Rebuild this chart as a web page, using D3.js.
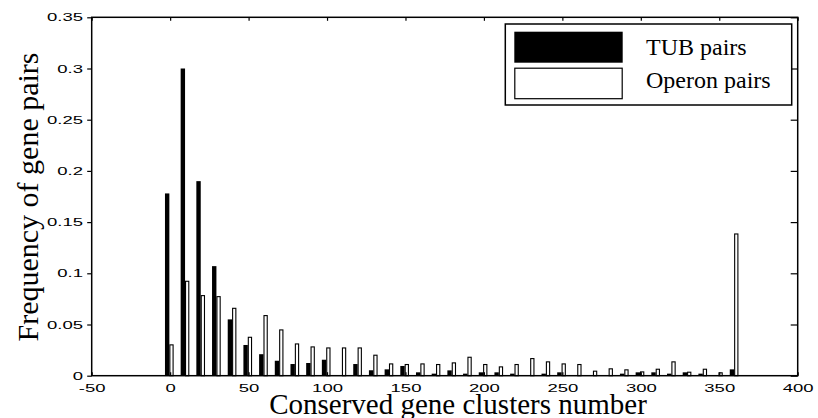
<!DOCTYPE html>
<html>
<head>
<meta charset="utf-8">
<script src="https://cdn.jsdelivr.net/npm/d3@7"></script>
<style>
  html, body { margin: 0; padding: 0; background: #fff; }
  svg { display: block; }
</style>
</head>
<body>
<svg id="chart" width="818" height="418"></svg>
<script>
// Histogram bins (number of conserved gene clusters)
const bins = [0, 10, 20, 30, 40, 50, 60, 70, 80, 90, 100, 110, 120, 130, 140, 150, 160, 170, 180,
              190, 200, 210, 220, 230, 240, 250, 260, 270, 280, 290, 300, 310, 320, 330, 340, 350, 360];

// Frequency of TUB gene pairs per bin
const tubPairs = [0.178, 0.300, 0.190, 0.107, 0.055, 0.030, 0.021, 0.0146, 0.0114, 0.0124, 0.0156, 0, 0.0114,
                  0.0053, 0.0062, 0.0095, 0.0033, 0.002, 0.0052, 0.002, 0.0033, 0.0033, 0.002, 0, 0.002,
                  0.0033, 0, 0, 0, 0.002, 0.0033, 0.0033, 0.002, 0.0033, 0.002, 0, 0.0062];

// Frequency of operon gene pairs per bin
const operonPairs = [0.0306, 0.0927, 0.0787, 0.0777, 0.0663, 0.038, 0.0592, 0.0452, 0.0315, 0.0286, 0.0276,
                     0.0276, 0.0276, 0.0205, 0.012, 0.0114, 0.012, 0.0114, 0.013, 0.0185, 0.0114, 0.0091,
                     0.0114, 0.0172, 0.014, 0.012, 0.0114, 0.0049, 0.0072, 0.0062, 0.0042, 0.0068, 0.014,
                     0.0039, 0.0068, 0.0033, 0.1389];

const xTicks = [-50, 0, 50, 100, 150, 200, 250, 300, 350, 400];
const yTicks = [0, 0.05, 0.1, 0.15, 0.2, 0.25, 0.3, 0.35];
const seriesNames = ["TUB pairs", "Operon pairs"];

const svg = d3.select("#chart");
const plotL = 91.7, plotR = 797.7, plotT = 17.3, plotB = 375.7;

const x = d3.scaleLinear().domain([-50, 400]).range([plotL, plotR]);
const y = d3.scaleLinear().domain([0, 0.35]).range([plotB, plotT]);

const tickFont = "'Liberation Sans', Arial, sans-serif";
const serif = "'Liberation Serif', 'Times New Roman', serif";
const stretch = 1.85;

// Bars: TUB (black) on the left of each bin, operon (white) on the right
const bars = svg.append("g");
bins.forEach((c, i) => {
  const t = tubPairs[i];
  if (t > 0) {
    bars.append("rect")
      .attr("x", x(c - 3.3)).attr("width", x(c - 0.5) - x(c - 3.3))
      .attr("y", y(t)).attr("height", y(0) - y(t))
      .attr("fill", "#000");
  }
  const o = operonPairs[i];
  if (o > 0) {
    bars.append("rect")
      .attr("x", x(c - 0.5) + 0.5).attr("width", x(c + 2.2) - x(c - 0.5) - 1)
      .attr("y", y(o) + 0.5).attr("height", y(0) - y(o) - 0.5)
      .attr("fill", "#fff").attr("stroke", "#000").attr("stroke-width", 1.1);
  }
});

// Axes
const gx = svg.append("g").attr("transform", `translate(0,${plotB})`)
  .call(d3.axisBottom(x).tickValues(xTicks).tickSizeInner(-3.5).tickSizeOuter(0).tickFormat(d => d));
gx.selectAll("text")
  .attr("y", 9).attr("dy", "0.71em")
  .attr("transform", `scale(${stretch},1)`)
  .style("font-family", tickFont).style("font-size", "10px").attr("fill", "#000");

const gy = svg.append("g").attr("transform", `translate(${plotL},0)`)
  .call(d3.axisLeft(y).tickValues(yTicks).tickSizeInner(4.5).tickSizeOuter(0).tickFormat(d => String(d)));
gy.selectAll("text")
  .attr("x", -8.7 / stretch).attr("dy", "0.36em")
  .attr("transform", `scale(${stretch},1)`)
  .style("font-family", tickFont).style("font-size", "10px").attr("fill", "#000");

svg.append("g").attr("transform", `translate(0,${plotT})`)
  .call(d3.axisTop(x).tickValues(xTicks).tickSizeInner(-3.5).tickSizeOuter(0).tickFormat(""));
svg.append("g").attr("transform", `translate(${plotR},0)`)
  .call(d3.axisRight(y).tickValues(yTicks).tickSizeInner(-7).tickSizeOuter(0).tickFormat(""));

svg.selectAll(".domain").remove();
svg.selectAll(".tick line").attr("stroke", "#000").attr("stroke-width", 1.2);

// Plot frame
svg.append("rect")
  .attr("x", plotL).attr("y", plotT).attr("width", plotR - plotL).attr("height", plotB - plotT)
  .attr("fill", "none").attr("stroke", "#000").attr("stroke-width", 1.5);

// Axis titles
svg.append("text")
  .attr("x", 458).attr("y", 414).attr("text-anchor", "middle")
  .style("font-family", serif).style("font-size", "29px")
  .text("Conserved gene clusters number");

svg.append("text")
  .attr("transform", "translate(38,197) rotate(-90)").attr("text-anchor", "middle")
  .style("font-family", serif).style("font-size", "30px")
  .text("Frequency of gene pairs");

// Legend
const lg = svg.append("g");
lg.append("rect").attr("x", 505.3).attr("y", 24).attr("width", 286.4).attr("height", 81)
  .attr("fill", "#fff").attr("stroke", "#000").attr("stroke-width", 1.5);
lg.append("rect").attr("x", 514.3).attr("y", 31.7).attr("width", 108.4).attr("height", 31)
  .attr("fill", "#000");
lg.append("rect").attr("x", 514.8).attr("y", 68.2).attr("width", 107.4).attr("height", 30.5)
  .attr("fill", "#fff").attr("stroke", "#000").attr("stroke-width", 1.2);
lg.selectAll("text.lbl").data(seriesNames).join("text")
  .attr("class", "lbl")
  .attr("x", 646).attr("y", (d, i) => 55 + i * 33.3)
  .style("font-family", serif).style("font-size", "24px")
  .text(d => d);
</script>
</body>
</html>
